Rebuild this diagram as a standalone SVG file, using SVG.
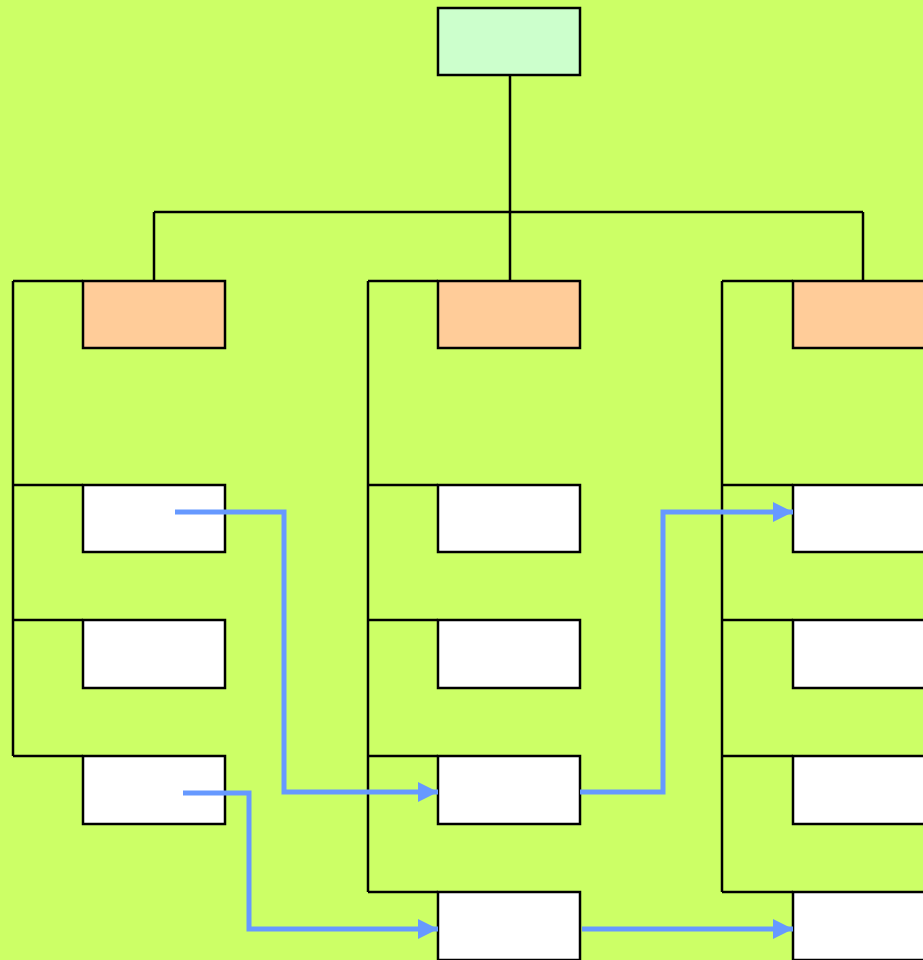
<svg xmlns="http://www.w3.org/2000/svg" width="923" height="960" viewBox="0 0 923 960">
<defs>
<style>
.box{stroke:#000;stroke-width:2.5}
.root{fill:#CCFFCC}
.head{fill:#FFCC99}
.item{fill:#FFFFFF}
.tree{fill:none;stroke:#000;stroke-width:2.5}
.flow{fill:none;stroke:#6699FF;stroke-width:5;marker-end:url(#ah)}
</style>
<marker id="ah" markerUnits="userSpaceOnUse" markerWidth="20" markerHeight="20" viewBox="0 0 18 18" refX="18" refY="9" orient="auto">
<path d="M0,0 L18,9 L0,18 Z" fill="#6699FF"/>
</marker>
</defs>
<rect x="0" y="0" width="923" height="960" fill="#CCFF66"/>
<g id="connectors">
<path class="tree" d="M510,75 V281 M154,212 H863 M154,212 V281 M863,212 V281"/>
<path class="tree" d="M13,281 V756 M13,281 H83 M13,485 H83 M13,620 H83 M13,756 H83"/>
<path class="tree" d="M368,281 V892 M368,281 H438 M368,485 H438 M368,620 H438 M368,756 H438 M368,892 H438"/>
<path class="tree" d="M722,281 V892 M722,281 H793 M722,485 H793 M722,620 H793 M722,756 H793 M722,892 H793"/>
</g>
<g id="root"><rect class="box root" x="438" y="8" width="142" height="67"/></g>
<g id="head1"><rect class="box head" x="83" y="281" width="142" height="67"/></g>
<g id="head2"><rect class="box head" x="438" y="281" width="142" height="67"/></g>
<g id="head3"><rect class="box head" x="793" y="281" width="142" height="67"/></g>
<g id="a1"><rect class="box item" x="83" y="485" width="142" height="67"/></g>
<g id="a2"><rect class="box item" x="83" y="620" width="142" height="68"/></g>
<g id="a3"><rect class="box item" x="83" y="756" width="142" height="68"/></g>
<g id="b1"><rect class="box item" x="438" y="485" width="142" height="67"/></g>
<g id="b2"><rect class="box item" x="438" y="620" width="142" height="68"/></g>
<g id="b3"><rect class="box item" x="438" y="756" width="142" height="68"/></g>
<g id="b4"><rect class="box item" x="438" y="892" width="142" height="68"/></g>
<g id="c1"><rect class="box item" x="793" y="485" width="142" height="67"/></g>
<g id="c2"><rect class="box item" x="793" y="620" width="142" height="68"/></g>
<g id="c3"><rect class="box item" x="793" y="756" width="142" height="68"/></g>
<g id="c4"><rect class="box item" x="793" y="892" width="142" height="68"/></g>
<g id="flows">
<path class="flow" d="M175,512 H284 V792 H438"/>
<path class="flow" d="M183,793 H249 V929 H438"/>
<path class="flow" d="M580,792 H663 V512 H793"/>
<path class="flow" d="M582,929 H793"/>
</g>
</svg>
